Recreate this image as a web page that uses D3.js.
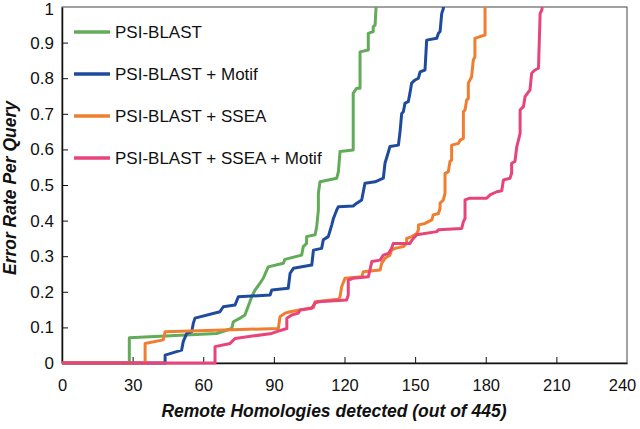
<html>
<head>
<style>
  body { margin: 0; background: #fff; }
  .line { fill: none; stroke-width: 3px; stroke-linejoin: round; }
  text { font-family: "Liberation Sans", Arial, sans-serif; fill: #111; }
</style>
</head>
<body>
<svg id="chart" width="640" height="429"></svg>
<script src="https://d3js.org/d3.v7.min.js"></script>
<script>
// series names, colours
const names = ["PSI-BLAST", "PSI-BLAST + Motif", "PSI-BLAST + SSEA", "PSI-BLAST + SSEA + Motif"]
const colors = ["#62ab58", "#1f4b9e", "#ef7e31", "#e8447a"]

const xTicks = [0, 30, 60, 90, 120, 150, 180, 210, 240]
const yTicks = [0, 0.1, 0.2, 0.3, 0.4, 0.5, 0.6, 0.7, 0.8, 0.9, 1]

// [detected, error rate] vertices
const psiBlast = [
  [0, 0], [28.6, 0], [28.6, 0.071], [65.7, 0.083], [72.1, 0.097], [72.8, 0.116], [75.6, 0.126],
  [77.7, 0.135], [80.6, 0.186], [82, 0.205], [84.1, 0.224], [85.5, 0.238], [87.6, 0.27],
  [94, 0.28], [94.7, 0.291], [101.8, 0.303], [102.5, 0.327], [103.9, 0.336], [103.9, 0.355],
  [107.5, 0.36], [108.2, 0.383], [108.9, 0.43], [108.9, 0.477], [109.6, 0.509], [116.7, 0.519],
  [117.4, 0.537], [118.1, 0.594], [123.7, 0.598], [123.7, 0.758], [125.2, 0.772], [126.6, 0.772],
  [126.6, 0.874], [130.1, 0.879], [130.1, 0.926], [132.2, 0.931], [132.2, 0.945], [133, 0.949],
  [133.4, 1]
]
const psiMotif = [
  [0, 0], [43.8, 0], [43.8, 0.022], [50.8, 0.036], [51.5, 0.06], [53, 0.083], [55.1, 0.088],
  [55.8, 0.112], [56.5, 0.126], [67.1, 0.144], [68.5, 0.158], [73.5, 0.163], [74.9, 0.186],
  [88.4, 0.191], [89.1, 0.205], [96.1, 0.21], [96.9, 0.252], [98.3, 0.266], [106.1, 0.275],
  [106.8, 0.317], [110.3, 0.322], [111, 0.346], [113.1, 0.355], [114.6, 0.388], [115.3, 0.406],
  [116.7, 0.43], [117.4, 0.439], [123.7, 0.441], [125.2, 0.449], [127.3, 0.458], [128.7, 0.505],
  [133, 0.509], [136.5, 0.519], [137.2, 0.561], [138.7, 0.594], [139.3, 0.608], [142.9, 0.612],
  [143.6, 0.65], [144.3, 0.701], [145, 0.706], [145.7, 0.73], [147.1, 0.734], [147.8, 0.758],
  [148.5, 0.786], [150, 0.795], [151.4, 0.8], [152.1, 0.818], [154.2, 0.823], [154.9, 0.907],
  [159.2, 0.912], [159.9, 0.926], [160.6, 0.931], [161.3, 0.982], [162, 0.996], [162, 1]
]
const psiSsea = [
  [0, 0], [35.3, 0], [35.3, 0.055], [43, 0.065], [43.8, 0.088], [91.9, 0.097], [92.6, 0.13],
  [94.7, 0.14], [96.9, 0.144], [106.8, 0.156], [107.5, 0.172], [117.4, 0.179], [118.1, 0.186],
  [118.8, 0.214], [120.2, 0.238], [127.3, 0.242], [128, 0.256], [135.1, 0.261], [135.8, 0.28],
  [137.2, 0.294], [139.3, 0.303], [140, 0.317], [141.5, 0.322], [145, 0.327], [146.4, 0.336],
  [146.4, 0.35], [148.6, 0.355], [150.7, 0.364], [151.4, 0.374], [151.4, 0.388], [154.2, 0.392],
  [157.1, 0.402], [157.7, 0.416], [159.9, 0.42], [160.6, 0.434], [160.6, 0.449], [162, 0.458],
  [162.7, 0.477], [162.7, 0.533], [164.1, 0.537], [164.8, 0.566], [165.5, 0.57], [165.5, 0.612],
  [168.4, 0.617], [169.1, 0.626], [170.5, 0.631], [170.5, 0.706], [171.2, 0.711], [171.9, 0.739],
  [172.6, 0.743], [172.6, 0.786], [173.3, 0.795], [174, 0.804], [174.7, 0.851], [175.4, 0.86],
  [175.4, 0.912], [177.6, 0.917], [179.7, 0.921], [179.7, 1]
]
const psiSseaMotif = [
  [0, 0], [65, 0], [65, 0.046], [71.4, 0.055], [73.5, 0.069], [89.1, 0.083], [91.2, 0.088],
  [95.5, 0.097], [95.5, 0.126], [97.6, 0.135], [100.4, 0.14], [101.1, 0.149], [106.1, 0.154],
  [107.5, 0.168], [108.9, 0.172], [120.9, 0.177], [121.6, 0.191], [121.6, 0.233], [123.7, 0.238],
  [130.1, 0.242], [130.8, 0.261], [131.6, 0.285], [135.1, 0.289], [136.5, 0.303], [138.7, 0.308],
  [140, 0.322], [140.7, 0.336], [147.8, 0.336], [148.6, 0.345], [150.7, 0.36], [159.2, 0.369],
  [159.9, 0.374], [169.8, 0.378], [170.5, 0.397], [171.2, 0.406], [171.2, 0.458], [173.3, 0.463],
  [180.4, 0.463], [181.8, 0.472], [184.7, 0.481], [186.8, 0.484], [187.5, 0.514], [190.3, 0.519],
  [191, 0.533], [191, 0.561], [192.4, 0.566], [193.2, 0.608], [193.9, 0.626], [194.6, 0.645],
  [194.6, 0.711], [196, 0.72], [196.7, 0.748], [198.8, 0.767], [199.5, 0.814], [200.9, 0.823],
  [202.4, 0.828], [203.1, 0.982], [203.8, 0.991], [204, 1]
]
const series = [psiBlast, psiMotif, psiSsea, psiSseaMotif]

const svg = d3.select("#chart")
const marginLeft = 62, plotRight = 627, plotTop = 7, plotBottom = 363

const xScale = d3.scaleLinear().domain([0, 240]).range([marginLeft, plotRight])
const yScale = d3.scaleLinear().domain([0, 1]).range([plotBottom, plotTop])

// frame (top and right)
svg.append("rect")
  .attr("x", marginLeft).attr("y", plotTop)
  .attr("width", plotRight - marginLeft).attr("height", plotBottom - plotTop)
  .attr("fill", "none").attr("stroke", "#444").attr("stroke-width", 1)

// x axis, ticks pointing inside
let xAxis = svg.append("g")
  .attr("transform", "translate(0," + plotBottom + ")")
  .call(d3.axisBottom(xScale).tickValues(xTicks).tickSizeInner(-6).tickSizeOuter(0).tickPadding(16))
// y axis
let yAxis = svg.append("g")
  .attr("transform", "translate(" + marginLeft + ",0)")
  .call(d3.axisLeft(yScale).tickValues(yTicks).tickSizeInner(-6).tickSizeOuter(0).tickPadding(8)
    .tickFormat(d => d3.format("~g")(d)))

svg.selectAll(".domain").attr("stroke", "#111").attr("stroke-width", 1.5)
svg.selectAll(".tick line").attr("stroke", "#111")
svg.selectAll(".tick text")
  .style("font-family", "'Liberation Sans', Arial, sans-serif")
  .style("font-size", "17px").attr("fill", "#111")
xAxis.selectAll(".tick text").style("font-size", "16.5px")
xAxis.selectAll(".tick").filter(d => d == 0 || d == 240).select("line").remove()
yAxis.selectAll(".tick").filter(d => d == 0 || d == 1).select("line").remove()
// keep the edge labels inside the page
yAxis.selectAll(".tick").filter(d => d == 1).select("text").attr("dy", "0.45em")
xAxis.selectAll(".tick").filter(d => d == 240).select("text").attr("dx", -5)

// lines
let line = d3.line().x(d => xScale(d[0])).y(d => yScale(d[1]))
series.forEach((s, i) => {
  svg.append("path")
    .datum(s)
    .attr("class", "line")
    .attr("d", line)
    .attr("stroke", colors[i])
})

// legend
names.forEach((n, i) => {
  let y = 32 + i * 42
  svg.append("line").attr("x1", 74).attr("x2", 110).attr("y1", y).attr("y2", y)
    .attr("stroke", colors[i]).attr("stroke-width", 3.5)
  svg.append("text").attr("x", 115).attr("y", y + 6).text(n)
    .style("font-size", "17px")
})

// axis titles
svg.append("text")
  .attr("x", 334).attr("y", 417)
  .attr("text-anchor", "middle")
  .style("font-size", "17.5px").style("font-weight", "bold").style("font-style", "italic")
  .text("Remote Homologies detected (out of 445)")

svg.append("text")
  .attr("transform", "translate(16,188) rotate(-90)")
  .attr("text-anchor", "middle")
  .style("font-size", "17.5px").style("font-weight", "bold").style("font-style", "italic")
  .text("Error Rate Per Query")
</script>
</body>
</html>
